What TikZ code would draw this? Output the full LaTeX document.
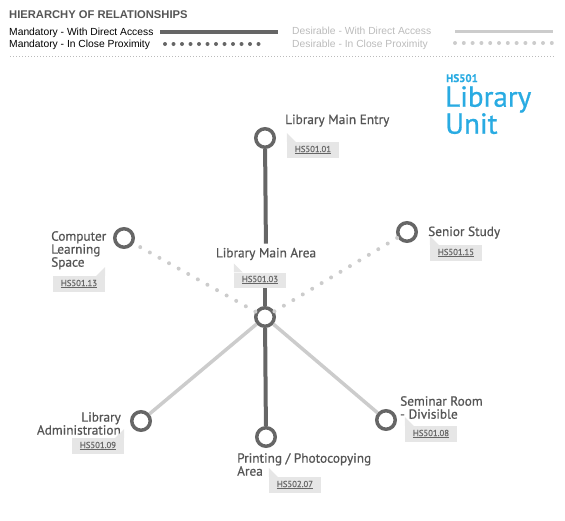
\documentclass[tikz,border=0pt]{standalone}
\usepackage{fontspec}
\setmainfont{Liberation Sans}
\newfontfamily\dinfont[FakeBold=0.7]{PT Sans}
\usetikzlibrary{positioning}

\definecolor{darkline}{HTML}{666666}
\definecolor{lightline}{HTML}{CCCCCC}
\definecolor{labelgray}{HTML}{555555}
\definecolor{desgray}{HTML}{BBBBBB}
\definecolor{tagfill}{HTML}{E6E6E6}
\definecolor{tagtext}{HTML}{666666}
\definecolor{unitblue}{HTML}{29ABE2}

\begin{document}
\begin{tikzpicture}[x=1pt,y=-1pt,
  room/.style={circle,draw=darkline,line width=3.5pt,fill=white,minimum size=18.5pt,inner sep=0pt},
  mand/.style={darkline,line width=4pt},
  mandprox/.style={darkline,line width=4pt,line cap=round,dash pattern=on 0pt off 8.5pt},
  des/.style={lightline,line width=3.5pt},
  desprox/.style={lightline,line width=4pt,line cap=round,dash pattern=on 0pt off 11pt},
  legend/.style={font=\fontsize{10.3}{11}\selectfont,inner sep=0pt,anchor=base west},
  lbl/.style={font=\dinfont\fontsize{13.3}{13}\selectfont,text=labelgray,inner sep=1pt},
  tag/.style={fill=tagfill,font=\dinfont\fontsize{8.7}{9}\selectfont,text=tagtext,
    minimum width=52pt,minimum height=16pt,inner sep=0pt}]

  \useasboundingbox (0,0) rectangle (565,520);

  % legend
  \node[legend,font=\bfseries\fontsize{11.2}{12}\selectfont,text=labelgray] (title) at (9,18) {HIERARCHY OF RELATIONSHIPS};
  \node[legend] (m1) at (9,35) {Mandatory - With Direct Access};
  \node[legend] (m2) at (9,47) {Mandatory - In Close Proximity};
  \node[legend,text=desgray] (d1) at (292,34) {Desirable - With Direct Access};
  \node[legend,text=desgray] (d2) at (292,47) {Desirable - In Close Proximity};
  \draw[mand,line width=3.5pt] (160,32) -- (278,32);
  \draw[mandprox] (165,44) -- (259,44);
  \draw[des,line width=3pt] (455,31) -- (553,31);
  \draw[desprox,dash pattern=on 0pt off 8.8pt] (455,43) -- (553,43);
  \draw[desgray,line width=0.8pt,dash pattern=on 1pt off 2pt] (10,56) -- (555,56);

  % unit
  \node[font=\dinfont\bfseries\fontsize{11}{12}\selectfont,text=unitblue,inner sep=0pt,anchor=base west] (code) at (446,82) {HS501};
  \node[font=\dinfont\fontsize{29}{27}\selectfont,text=unitblue,inner sep=0pt,anchor=north west,align=left] (unit) at (445,86) {Library\\Unit};

  % rooms
  \node[room] (hub) at (265,317) {};
  \node[room] (entry) at (265,138) {};
  \node[room] (cls) at (124,238) {};
  \node[room] (senior) at (407,232) {};
  \node[room] (admin) at (141,421) {};
  \node[room] (print) at (266,437) {};
  \node[room] (seminar) at (386,420) {};

  % labels
  \node[lbl,anchor=base west] (entrylbl) at (284,124) {Library Main Entry};
  \node[lbl,anchor=north west,align=left] (clslbl) at (50,230) {Computer\\Learning\\Space};
  \node[lbl,anchor=base west] (seniorlbl) at (427,236) {Senior Study};
  \node[lbl,inner sep=4pt] (arealbl) at (266,254) {Library Main Area};
  \node[lbl,anchor=north east,align=right] (adminlbl) at (122,411) {Library\\Administration};
  \node[lbl,anchor=north west,align=left] (printlbl) at (236,452) {Printing / Photocopying\\Area};
  \node[lbl,anchor=north west,align=left] (seminarlbl) at (399,395) {Seminar Room\\- Divisible};

  % tags
  \node[tag] (t01) at (313,150) {\underline{HS501.01}};
  \node[tag] (t13) at (79,284) {\underline{HS501.13}};
  \node[tag] (t15) at (456,253) {\underline{HS501.15}};
  \node[tag,minimum height=15pt] (t03) at (260,280) {\underline{HS501.03}};
  \node[tag] (t09) at (98,446) {\underline{HS501.09}};
  \node[tag] (t07) at (295,485) {\underline{HS502.07}};
  \node[tag] (t08) at (431,434) {\underline{HS501.08}};
  \foreach \t in {t01,t15,t03,t07,t08}
    \fill[tagfill] (\t.north west) -- ++(0,-9) -- ++(9,9) -- cycle;
  \foreach \t in {t13,t09}
    \fill[tagfill] (\t.north east) -- ++(0,-9) -- ++(-9,9) -- cycle;

  % relationships
  \draw[mand] (entry) -- (arealbl);
  \draw[mand] (hub) -- (hub |- t03.south);
  \draw[mand] (hub) -- (print);
  \draw[des] (hub) -- (admin);
  \draw[des] (hub) -- (seminar);
  \draw[desprox] (hub) -- (cls);
  \draw[desprox] (hub) -- (senior);

\end{tikzpicture}
\end{document}
